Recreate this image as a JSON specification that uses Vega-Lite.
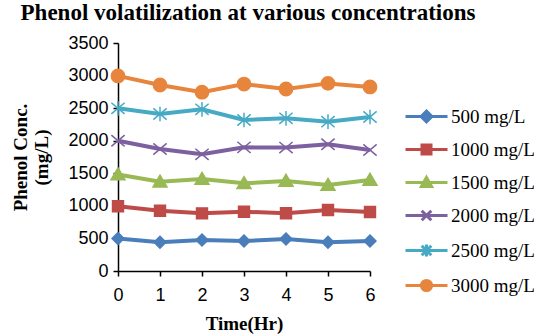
{
  "$schema": "https://vega.github.io/schema/vega-lite/v6.json",
  "width": 252,
  "height": 228,
  "autosize": "none",
  "padding": {"left": 118, "top": 43, "right": 170, "bottom": 65},
  "background": "white",
  "title": {"text": "Phenol volatilization at various concentrations", "font": "Liberation Serif", "fontSize": 23, "fontWeight": "bold", "color": "black", "anchor": "middle", "offset": 9, "dx": 4},
  "config": {"view": {"stroke": null}},
  "data": {"values": [
    {"t": 0, "c": 500, "series": "500 mg/L"},
    {"t": 1, "c": 440, "series": "500 mg/L"},
    {"t": 2, "c": 476, "series": "500 mg/L"},
    {"t": 3, "c": 460, "series": "500 mg/L"},
    {"t": 4, "c": 491, "series": "500 mg/L"},
    {"t": 5, "c": 442, "series": "500 mg/L"},
    {"t": 6, "c": 460, "series": "500 mg/L"},
    {"t": 0, "c": 995, "series": "1000 mg/L"},
    {"t": 1, "c": 925, "series": "1000 mg/L"},
    {"t": 2, "c": 885, "series": "1000 mg/L"},
    {"t": 3, "c": 910, "series": "1000 mg/L"},
    {"t": 4, "c": 887, "series": "1000 mg/L"},
    {"t": 5, "c": 936, "series": "1000 mg/L"},
    {"t": 6, "c": 906, "series": "1000 mg/L"},
    {"t": 0, "c": 1480, "series": "1500 mg/L"},
    {"t": 1, "c": 1370, "series": "1500 mg/L"},
    {"t": 2, "c": 1412, "series": "1500 mg/L"},
    {"t": 3, "c": 1346, "series": "1500 mg/L"},
    {"t": 4, "c": 1382, "series": "1500 mg/L"},
    {"t": 5, "c": 1320, "series": "1500 mg/L"},
    {"t": 6, "c": 1397, "series": "1500 mg/L"},
    {"t": 0, "c": 2000, "series": "2000 mg/L"},
    {"t": 1, "c": 1873, "series": "2000 mg/L"},
    {"t": 2, "c": 1791, "series": "2000 mg/L"},
    {"t": 3, "c": 1898, "series": "2000 mg/L"},
    {"t": 4, "c": 1895, "series": "2000 mg/L"},
    {"t": 5, "c": 1945, "series": "2000 mg/L"},
    {"t": 6, "c": 1857, "series": "2000 mg/L"},
    {"t": 0, "c": 2497, "series": "2500 mg/L"},
    {"t": 1, "c": 2410, "series": "2500 mg/L"},
    {"t": 2, "c": 2482, "series": "2500 mg/L"},
    {"t": 3, "c": 2318, "series": "2500 mg/L"},
    {"t": 4, "c": 2344, "series": "2500 mg/L"},
    {"t": 5, "c": 2292, "series": "2500 mg/L"},
    {"t": 6, "c": 2364, "series": "2500 mg/L"},
    {"t": 0, "c": 2995, "series": "3000 mg/L"},
    {"t": 1, "c": 2855, "series": "3000 mg/L"},
    {"t": 2, "c": 2745, "series": "3000 mg/L"},
    {"t": 3, "c": 2870, "series": "3000 mg/L"},
    {"t": 4, "c": 2794, "series": "3000 mg/L"},
    {"t": 5, "c": 2880, "series": "3000 mg/L"},
    {"t": 6, "c": 2825, "series": "3000 mg/L"}
  ]},
  "encoding": {
    "x": {"field": "t", "type": "quantitative", "scale": {"domain": [0, 6], "nice": false, "zero": false},
      "axis": {"values": [0, 1, 2, 3, 4, 5, 6], "format": "d", "grid": false, "title": "Time(Hr)", "titleFont": "Liberation Serif", "titleFontSize": 19, "titleFontWeight": "bold", "titleColor": "black", "titlePadding": 10, "labelFont": "Liberation Sans", "labelFontSize": 18, "labelColor": "black", "labelPadding": 10, "labelFlush": false, "domainColor": "black", "domainWidth": 1.5, "tickColor": "black", "tickSize": 5, "tickWidth": 1.5}},
    "y": {"field": "c", "type": "quantitative", "scale": {"domain": [0, 3500], "nice": false},
      "axis": {"values": [0, 500, 1000, 1500, 2000, 2500, 3000, 3500], "format": "d", "grid": false, "title": ["Phenol Conc.", "(mg/L)"], "titleFont": "Liberation Serif", "titleFontSize": 19, "titleFontWeight": "bold", "titleColor": "black", "titlePadding": 16, "labelFont": "Liberation Sans", "labelFontSize": 18, "labelColor": "black", "labelPadding": 5, "domainColor": "black", "domainWidth": 1.5, "tickColor": "black", "tickSize": 5, "tickWidth": 1.5}}
  },
  "layer": [
    {"mark": {"type": "line", "strokeWidth": 4},
      "encoding": {
        "color": {"field": "series", "type": "nominal", "legend": null,
          "scale": {"domain": ["500 mg/L", "1000 mg/L", "1500 mg/L", "2000 mg/L", "2500 mg/L", "3000 mg/L"], "range": ["#4A7EBB", "#BE4B48", "#98B954", "#7D60A0", "#46AAC5", "#E8853D"]}}
      }},
    {"mark": {"type": "point", "filled": true, "opacity": 1, "strokeWidth": 1.5, "size": 196},
      "encoding": {
        "color": {"field": "series", "type": "nominal", "legend": null,
          "scale": {"domain": ["500 mg/L", "1000 mg/L", "1500 mg/L", "2000 mg/L", "2500 mg/L", "3000 mg/L"], "range": ["#4A7EBB", "#BE4B48", "#98B954", "#7D60A0", "#46AAC5", "#E8853D"]}},
        "shape": {"field": "series", "type": "nominal", "legend": null,
          "scale": {"domain": ["500 mg/L", "1000 mg/L", "1500 mg/L", "2000 mg/L", "2500 mg/L", "3000 mg/L"],
            "range": ["M0,-0.85L0.85,0L0,0.85L-0.85,0Z", "M-0.78,-0.78L0.78,-0.78L0.78,0.78L-0.78,0.78Z", "M0,-0.95L1,0.75L-1,0.75Z", "M-0.95,-0.8L0.95,0.8M0.95,-0.8L-0.95,0.8", "M-0.95,-0.8L0.95,0.8M0.95,-0.8L-0.95,0.8M0,-1.05L0,1.05", "M-0.95,0A0.95,0.95,0,1,0,0.95,0A0.95,0.95,0,1,0,-0.95,0Z"]}},
        "stroke": {"field": "series", "type": "nominal", "legend": null,
          "scale": {"domain": ["500 mg/L", "1000 mg/L", "1500 mg/L", "2000 mg/L", "2500 mg/L", "3000 mg/L"], "range": ["#4A7EBB", "#BE4B48", "#98B954", "#7D60A0", "#46AAC5", "#E8853D"]}}
      }},
    {"transform": [{"filter": "false"}],
      "mark": {"type": "point", "filled": true, "opacity": 1, "strokeWidth": 3, "size": 144},
      "encoding": {
        "color": {"field": "series", "type": "nominal",
          "scale": {"domain": ["500 mg/L", "1000 mg/L", "1500 mg/L", "2000 mg/L", "2500 mg/L", "3000 mg/L"], "range": ["#4A7EBB", "#BE4B48", "#98B954", "#7D60A0", "#46AAC5", "#E8853D"]},
          "legend": {"title": null, "orient": "none", "legendX": 299, "legendY": 64, "padding": 0, "symbolSize": 144, "symbolStrokeWidth": 3, "symbolOpacity": 1, "rowPadding": 11, "labelOffset": 15, "labelFont": "Liberation Serif", "labelFontSize": 19, "labelColor": "black"}},
        "shape": {"field": "series", "type": "nominal",
          "scale": {"domain": ["500 mg/L", "1000 mg/L", "1500 mg/L", "2000 mg/L", "2500 mg/L", "3000 mg/L"],
            "range": ["M-3.5,0L3.5,0M0,-0.9L0.9,0L0,0.9L-0.9,0Z", "M-3.5,0L3.5,0M-0.75,-0.75L0.75,-0.75L0.75,0.75L-0.75,0.75Z", "M-3.5,0L3.5,0M0,-0.85L0.85,0.65L-0.85,0.65Z", "M-3.5,0L3.5,0M-0.8,-0.8L0.8,0.8M0.8,-0.8L-0.8,0.8", "M-3.5,0L3.5,0M-0.8,-0.8L0.8,0.8M0.8,-0.8L-0.8,0.8M0,-1L0,1", "M-3.5,0L3.5,0M-0.85,0A0.85,0.85,0,1,0,0.85,0A0.85,0.85,0,1,0,-0.85,0Z"]},
          "legend": {"title": null, "orient": "none", "legendX": 299, "legendY": 64, "padding": 0, "symbolSize": 144, "symbolStrokeWidth": 3, "symbolOpacity": 1, "rowPadding": 11, "labelOffset": 15, "labelFont": "Liberation Serif", "labelFontSize": 19, "labelColor": "black"}},
        "stroke": {"field": "series", "type": "nominal", "legend": null,
          "scale": {"domain": ["500 mg/L", "1000 mg/L", "1500 mg/L", "2000 mg/L", "2500 mg/L", "3000 mg/L"], "range": ["#4A7EBB", "#BE4B48", "#98B954", "#7D60A0", "#46AAC5", "#E8853D"]}}
      }}
  ],
  "resolve": {"scale": {"color": "independent", "shape": "independent", "stroke": "independent"}}
}
